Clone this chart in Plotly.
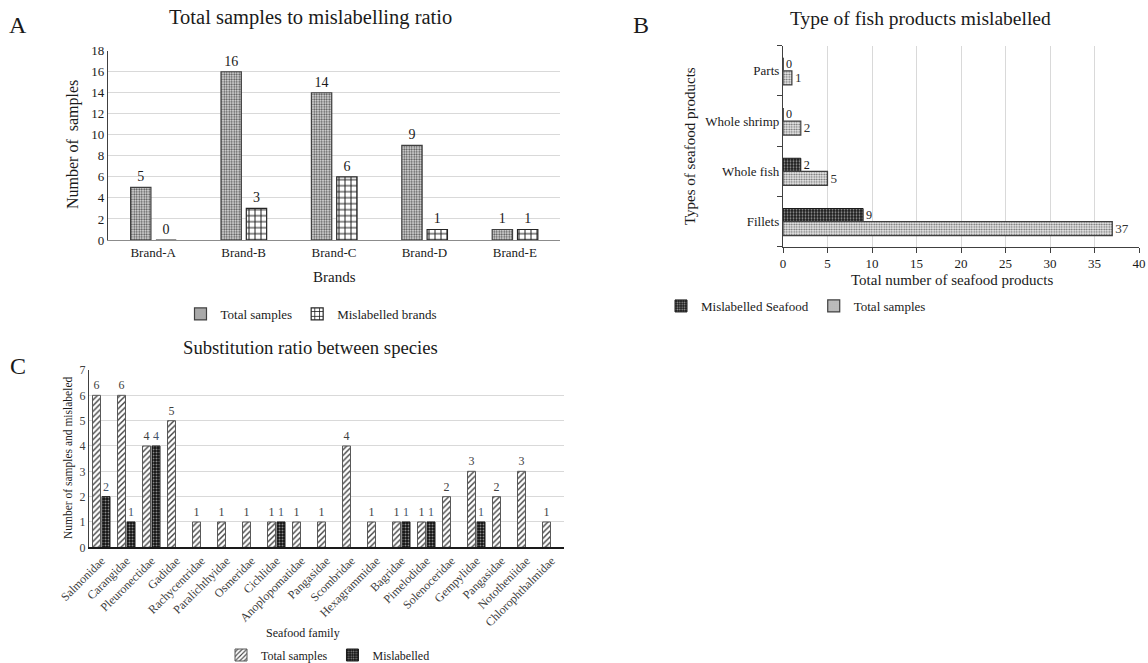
import plotly.graph_objects as go

W, H = 1148, 663
FONT = "Liberation Serif"


def px(x):
    return x / W


def py(y):
    return 1 - y / H


# ---------------- data ----------------
# Panel A
brands = ["Brand-A", "Brand-B", "Brand-C", "Brand-D", "Brand-E"]
brand_total = [5, 16, 14, 9, 1]
brand_mislabelled = [0, 3, 6, 1, 1]

# Panel B
product_types = ["Fillets", "Whole fish", "Whole shrimp", "Parts"]
product_total = [37, 5, 2, 1]
product_mislabelled = [9, 2, 0, 0]

# Panel C
families = ["Salmonidae", "Carangidae", "Pleuronectidae", "Gadidae", "Rachycentridae",
            "Paralichthyidae", "Osmeridae", "Cichlidae", "Anoplopomatidae", "Pangasidae",
            "Scombridae", "Hexagrammidae", "Bagridae", "Pimelodidae", "Solenoceridae",
            "Gempylidae", "Pangasidae", "Nototheniidae", "Chlorophthalmidae"]
family_total = [6, 6, 4, 5, 1, 1, 1, 1, 1, 1, 4, 1, 1, 1, 2, 3, 2, 3, 1]
family_mislabelled = [2, 1, 4, None, None, None, None, 1, None, None,
                      None, None, 1, 1, None, 1, None, None, None]

family_idx = list(range(len(families)))

fig = go.Figure()

# ---------------- Panel A ----------------
fig.add_trace(go.Bar(
    x=brands, y=brand_total, xaxis="x", yaxis="y", name="Total samples",
    width=0.225, offset=-0.25,
    marker=dict(color="#d0d0d0", line=dict(color="#404040", width=1.2),
                pattern=dict(shape=".", fgcolor="#505050", bgcolor="#e4e4e4",
                             size=2.5, solidity=0.45)),
    text=brand_total, textposition="outside", cliponaxis=False,
    textfont=dict(family=FONT, size=14, color="#1a1a1a"),
    legend="legend",
))
fig.add_trace(go.Bar(
    x=brands, y=brand_mislabelled, xaxis="x", yaxis="y", name="Mislabelled brands",
    width=0.225, offset=0.03,
    marker=dict(color="white", line=dict(color="#262626", width=1.2),
                pattern=dict(shape="+", fgcolor="#1a1a1a", bgcolor="white",
                             size=6, solidity=0.3)),
    text=brand_mislabelled, textposition="outside", cliponaxis=False,
    textfont=dict(family=FONT, size=14, color="#1a1a1a"),
    legend="legend",
))

# ---------------- Panel B ----------------
fig.add_trace(go.Bar(
    y=product_types, x=product_mislabelled, orientation="h", xaxis="x2", yaxis="y2",
    name="Mislabelled Seafood", width=0.26, offset=0.0,
    marker=dict(color="#222222", line=dict(color="#1a1a1a", width=1),
                pattern=dict(shape=".", fgcolor="#9a9a9a", bgcolor="#1a1a1a",
                             size=3, solidity=0.35)),
    text=product_mislabelled, textposition="outside", cliponaxis=False,
    textfont=dict(family=FONT, size=14, color="#1a1a1a"),
    legend="legend2",
))
fig.add_trace(go.Bar(
    y=product_types, x=product_total, orientation="h", xaxis="x2", yaxis="y2",
    name="Total samples", width=0.28, offset=-0.28,
    marker=dict(color="#d8d8d8", line=dict(color="#404040", width=1.2),
                pattern=dict(shape=".", fgcolor="#6a6a6a", bgcolor="#ececec",
                             size=2.5, solidity=0.4)),
    text=product_total, textposition="outside", cliponaxis=False,
    textfont=dict(family=FONT, size=14, color="#333333"),
    legend="legend2",
))

# ---------------- Panel C ----------------
fig.add_trace(go.Bar(
    x=family_idx, y=family_total, xaxis="x3", yaxis="y3", name="Total samples",
    width=0.32, offset=-0.36,
    marker=dict(color="white", line=dict(color="#595959", width=1),
                pattern=dict(shape="/", fgcolor="#404040", bgcolor="white",
                             size=4, solidity=0.35)),
    text=family_total, textposition="outside", cliponaxis=False,
    textfont=dict(family=FONT, size=12, color="#404040"),
    legend="legend3",
))
fig.add_trace(go.Bar(
    x=family_idx, y=family_mislabelled, xaxis="x3", yaxis="y3", name="Mislabelled",
    width=0.32, offset=0.02,
    marker=dict(color="#1a1a1a", line=dict(color="#1a1a1a", width=1),
                pattern=dict(shape=".", fgcolor="#8a8a8a", bgcolor="#111111",
                             size=3, solidity=0.35)),
    text=["" if v is None else str(v) for v in family_mislabelled],
    textposition="outside", cliponaxis=False,
    textfont=dict(family=FONT, size=12, color="#44546A"),
    legend="legend3",
))

tickfont_a = dict(family=FONT, size=13, color="#1a1a1a")
tickfont_c = dict(family=FONT, size=12, color="#404040")

fig.update_layout(
    template="none",
    width=W, height=H,
    margin=dict(l=0, r=0, t=0, b=0, autoexpand=False),
    paper_bgcolor="white", plot_bgcolor="white",
    barmode="overlay",
    font=dict(family=FONT, color="#262626"),
    xaxis=dict(domain=[px(108), px(560)], anchor="y", type="category", automargin=False,
               range=[-0.5, 4.5], showline=True, linecolor="#8c8c8c", linewidth=1.2,
               ticks="", tickfont=tickfont_a, showgrid=False, zeroline=False),
    yaxis=dict(domain=[py(240), py(50.7)], anchor="x", range=[0, 18], dtick=2,
               automargin=False,
               showline=True, linecolor="#404040", linewidth=1.2, showgrid=True,
               gridcolor="#d9d9d9", gridwidth=1, tickfont=tickfont_a, ticks="",
               zeroline=False),
    xaxis2=dict(domain=[px(783), px(1139)], anchor="y2", range=[0, 40], dtick=5,
                automargin=False,
                showline=True, linecolor="#404040", linewidth=1.2,
                ticks="outside", ticklen=5, tickcolor="#404040", showgrid=True,
                gridcolor="#d9d9d9", gridwidth=1, zeroline=False,
                tickfont=tickfont_a),
    yaxis2=dict(domain=[py(246.7), py(45.7)], anchor="x2", type="category",
                automargin=False,
                range=[-0.5, 3.5], showline=True, linecolor="#404040", linewidth=1.2,
                ticks="outside", tickson="boundaries", ticklen=5, tickcolor="#404040",
                showgrid=False, zeroline=False, tickfont=tickfont_a),
    xaxis3=dict(domain=[px(89), px(564)], anchor="y3", range=[-0.5, 18.5],
                automargin=False,
                tickvals=family_idx, ticktext=families, tickangle=-45,
                showline=True, linecolor="#1a1a1a", linewidth=1.5, ticks="",
                showgrid=False, zeroline=False, tickfont=tickfont_c),
    yaxis3=dict(domain=[py(547.3), py(370)], anchor="x3", range=[0, 7], dtick=1,
                automargin=False,
                showline=True, linecolor="#404040", linewidth=1.2, showgrid=True,
                gridcolor="#d9d9d9", gridwidth=1, ticks="", zeroline=False,
                tickfont=dict(family=FONT, size=12, color="#404040")),
    legend=dict(orientation="h", x=px(311), y=py(314), xanchor="center", yanchor="middle",
                font=dict(family=FONT, size=13, color="#1a1a1a"), bgcolor="rgba(0,0,0,0)",
                itemwidth=30),
    legend2=dict(orientation="h", x=px(796), y=py(306), xanchor="center", yanchor="middle",
                 font=dict(family=FONT, size=13, color="#1a1a1a"), bgcolor="rgba(0,0,0,0)",
                 itemwidth=30),
    legend3=dict(orientation="h", x=px(328), y=py(655), xanchor="center", yanchor="middle",
                 font=dict(family=FONT, size=12, color="#1a1a1a"), bgcolor="rgba(0,0,0,0)",
                 itemwidth=30),
    showlegend=True,
)

ann = [
    # panel letters
    dict(text="A", x=px(18), y=py(25), size=24),
    dict(text="B", x=px(641), y=py(25), size=24),
    dict(text="C", x=px(18), y=py(366), size=24),
    # titles
    dict(text="Total samples to mislabelling ratio", x=px(310), y=py(17), size=20.5),
    dict(text="Type of fish products mislabelled", x=px(920), y=py(18), size=19.5),
    dict(text="Substitution ratio between species", x=px(310), y=py(347), size=18.7),
    # axis titles
    dict(text="Brands", x=px(334), y=py(277), size=15),
    dict(text="Number of  samples", x=px(73), y=py(145), size=16, angle=-90),
    dict(text="Total number of seafood products", x=px(952), y=py(280), size=15),
    dict(text="Types of seafood products", x=px(690), y=py(146), size=15, angle=-90),
    dict(text="Seafood family", x=px(303), y=py(633), size=12),
    dict(text="Number of samples and mislabeled", x=px(68), y=py(458), size=11.5, angle=-90),
]
for a in ann:
    fig.add_annotation(
        text=a["text"], x=a["x"], y=a["y"], xref="paper", yref="paper",
        xanchor="center", yanchor="middle", showarrow=False,
        textangle=a.get("angle", 0),
        font=dict(family=FONT, size=a["size"], color="#1a1a1a"),
    )

fig.write_html(
    "out.html",
    config={"displayModeBar": False},
    post_script="document.body.style.margin='0';document.body.style.overflow='hidden';",
)
